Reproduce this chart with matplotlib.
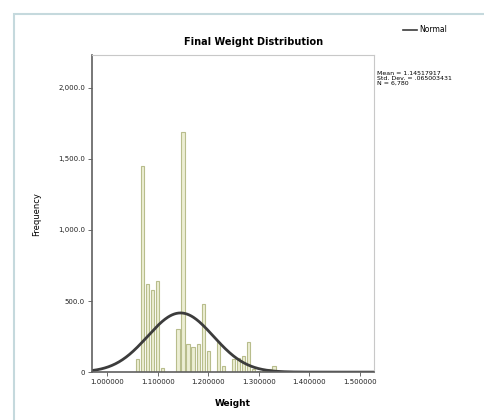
import numpy as np
import matplotlib
matplotlib.use("Agg")
import matplotlib.pyplot as plt
from matplotlib.patches import Rectangle
from matplotlib.lines import Line2D

# Histogram data (bin centres and counts)
binCentres = [1.06, 1.07, 1.08, 1.09, 1.10, 1.11, 1.14, 1.15, 1.16, 1.17, 1.18,
              1.19, 1.20, 1.22, 1.23, 1.25, 1.26, 1.27, 1.28, 1.29, 1.30, 1.31,
              1.32, 1.33]
counts = [90, 1450, 620, 580, 640, 30, 300, 1690, 200, 180, 200,
          480, 150, 210, 40, 90, 100, 110, 210, 20, 10, 10,
          20, 40]
binWidth = 0.01

# Summary stats
mean = 1.14517917
stdDev = 0.065003431
n = 6780

xTicks = [1.0, 1.1, 1.2, 1.3, 1.4, 1.5]
xTickLabels = ["1.000000", "1.100000", "1.200000", "1.300000", "1.400000", "1.500000"]
yTicks = [0, 500, 1000, 1500, 2000]
yTickLabels = ["0", "500.0", "1,000.0", "1,500.0", "2,000.0"]

fig = plt.figure(figsize=(4.84, 4.2), dpi=100)
fig.patch.set_facecolor("white")

# Scanned page frame
fig.patches.append(Rectangle((14 / 484, -0.1), 1.2, 1 - 14 / 420 + 0.1,
                             transform=fig.transFigure, fill=False,
                             edgecolor="#c5d9dd", linewidth=1.5))

ax = fig.add_axes([0.190, 0.114, 0.583, 0.755])

# Bars
ax.bar(binCentres, counts, width=binWidth * 0.65, color="#eceed3",
       edgecolor="#b8bd8c", linewidth=0.8)

# Normal curve
xs = np.linspace(0.97, 1.53, 400)
ys = n * binWidth / (stdDev * np.sqrt(2 * np.pi)) * np.exp(-0.5 * ((xs - mean) / stdDev) ** 2)
ax.plot(xs, ys, color="#3c3c3c", linewidth=2)

ax.set_xlim(0.97, 1.528)
ax.set_ylim(0, 2230)
ax.set_xticks(xTicks)
ax.set_xticklabels(xTickLabels, fontsize=5)
ax.set_yticks(yTicks)
ax.set_yticklabels(yTickLabels, fontsize=5)
ax.tick_params(length=3, width=0.6, colors="#555555", labelcolor="#222222", pad=2)

for side in ["top", "right"]:
    ax.spines[side].set_color("#c8c8c8")
for side in ["left", "bottom"]:
    ax.spines[side].set_color("#606060")
    ax.spines[side].set_linewidth(1.2)

ax.set_xlabel("Weight", fontsize=6.5, fontweight="bold", labelpad=10)
ax.set_ylabel("Frequency", fontsize=6, labelpad=12)

fig.text(254 / 484, 1 - 42 / 420, "Final Weight Distribution", fontsize=7,
         fontweight="bold", ha="center", va="center")

# Legend
legendHandle = Line2D([], [], color="#3c3c3c", linewidth=1.2)
fig.legend([legendHandle], ["Normal"], loc="center left",
           bbox_to_anchor=(396 / 484, 1 - 30 / 420), frameon=False,
           fontsize=5.5, handlelength=1.8, handletextpad=0.4)

fig.text(377 / 484, 1 - 71 / 420,
         "Mean = 1.14517917\nStd. Dev. = .065003431\nN = 6,780",
         fontsize=4.5, ha="left", va="top", linespacing=1.0)

fig.savefig("out.png", dpi=100)
